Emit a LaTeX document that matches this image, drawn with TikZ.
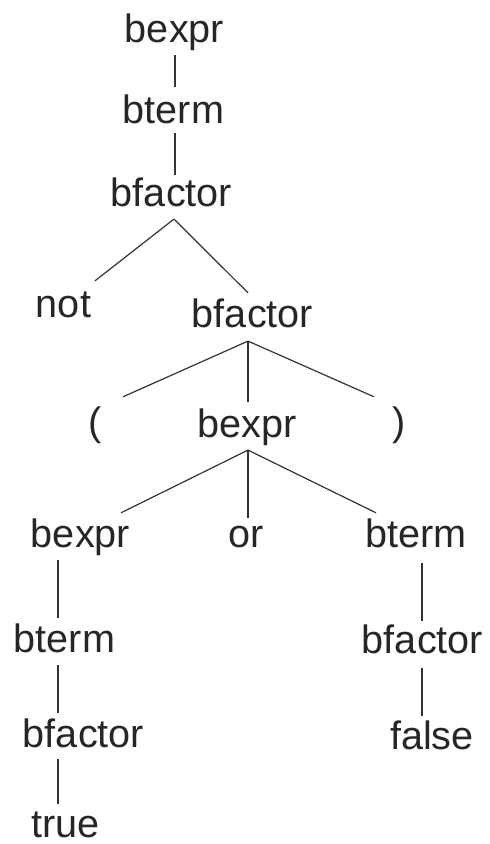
\documentclass[tikz,border=0pt]{standalone}
\usepackage{fontspec}
\setmainfont{Liberation Sans}
\begin{document}
\begin{tikzpicture}[x=1pt,y=-1pt,
  lab/.style={anchor=base,inner sep=0pt,text height=29.7pt,text depth=7.9pt,
    font=\fontsize{39.6}{44}\selectfont,text=black!85},
  link/.style={draw=black!80,line width=1.2pt}]
\useasboundingbox (0,0) rectangle (490,844);
\node[lab] (A) at (174.5,42) {bexpr};
\node[lab] (B) at (173.5,123) {bterm};
\node[lab] (C) at (171.5,206) {bfactor};
\node[lab] (D) at (63.5,317) {not};
\node[lab] (E) at (252.5,327) {bfactor};
\node[lab] (F) at (95,435) {(};
\node[lab] (G) at (247,437) {bexpr};
\node[lab] (H) at (399,435) {)};
\node[lab] (I) at (80.5,547) {bexpr};
\node[lab] (J) at (246,547) {or};
\node[lab] (K) at (416,547) {bterm};
\node[lab] (L) at (64.5,652) {bterm};
\node[lab] (M) at (83.5,747) {bfactor};
\node[lab,text depth=0pt] (N) at (65.5,837) {true};
\node[lab] (O) at (422.5,653) {bfactor};
\node[lab] (P) at (432,749) {false};
\draw[link] ([xshift=0.5pt,yshift=-5pt]A.south) -- ([xshift=1.5pt,yshift=6.3pt]B.north);
\draw[link] ([xshift=1.5pt,yshift=-2pt]B.south) -- ([xshift=3.5pt,yshift=1.3pt]C.north);
\draw[link] ([xshift=2.5pt,yshift=-5pt]C.south) -- ([xshift=31.5pt,yshift=6.3pt]D.north);
\draw[link] ([xshift=2.5pt,yshift=-5pt]C.south) -- ([xshift=-4.5pt,yshift=4.3pt]E.north);
\draw[link] ([xshift=-4.5pt,yshift=-6pt]E.south) -- ([xshift=28pt,yshift=8.3pt]F.north);
\draw[link] ([xshift=-4.5pt,yshift=-6pt]E.south) -- ([xshift=1pt,yshift=5.3pt]G.north);
\draw[link] ([xshift=-4.5pt,yshift=-6pt]E.south) -- ([xshift=-25pt,yshift=8.3pt]H.north);
\draw[link] ([xshift=1pt,yshift=-5pt]G.south) -- ([xshift=40.5pt,yshift=4.3pt]I.north);
\draw[link] ([xshift=1pt,yshift=-5pt]G.south) -- ([xshift=2pt,yshift=-0.7pt]J.north);
\draw[link] ([xshift=1pt,yshift=-5pt]G.south) -- ([xshift=-40pt,yshift=4.3pt]K.north);
\draw[link] ([xshift=-22.5pt,yshift=-5pt]I.south) -- ([xshift=-6.5pt,yshift=4.3pt]L.north);
\draw[link] ([xshift=-6.5pt,yshift=-5pt]L.south) -- ([xshift=-25.5pt,yshift=4.3pt]M.north);
\draw[link] ([xshift=-25.5pt,yshift=-4pt]M.south) -- ([xshift=-7.5pt,yshift=3.3pt]N.north);
\draw[link] ([xshift=6pt,yshift=-8pt]K.south) -- ([xshift=-0.5pt,yshift=2.3pt]O.north);
\draw[link] ([xshift=-0.5pt,yshift=-7pt]O.south) -- ([xshift=-10pt,yshift=3.3pt]P.north);
\end{tikzpicture}
\end{document}
